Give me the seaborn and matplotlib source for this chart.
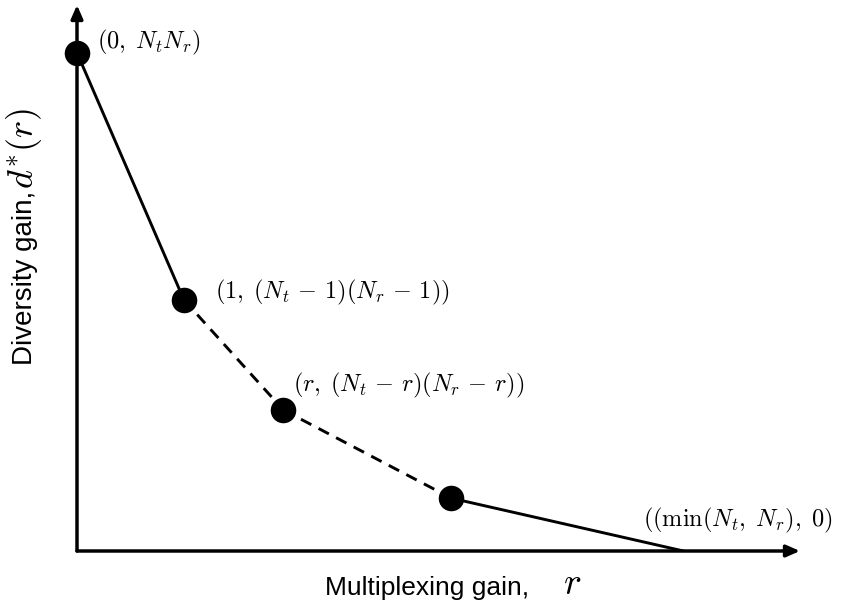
import matplotlib
matplotlib.use("Agg")
import matplotlib.pyplot as plt
import seaborn as sns
import pandas as pd

sns.set_style("white")
plt.rcParams['font.family'] = ['Liberation Sans', 'DejaVu Sans']
plt.rcParams['text.color'] = 'black'
plt.rcParams['axes.labelcolor'] = 'black'
plt.rcParams['mathtext.fontset'] = 'cm'

# Data
r_vals = [0.0, 1.0, 1.93, 3.5, 5.67]
d_vals = [10.0, 5.04, 2.83, 1.06, 0.0]
seg_style = ["solid", "dashed", "dashed", "solid"]
point_labels = [r"$(0,\;N_tN_r)$", r"$(1,\;(N_t\,-\,1)(N_r\,-\,1))$",
                r"$(r,\;(N_t\,-\,r)(N_r\,-\,r))$", None, r"$((\min(N_t,\;N_r),\;0)$"]
x_max, y_max = 6.76, 10.96

DPI = 100
W, H = 8.41, 6.07
fig = plt.figure(figsize=(W, H), dpi=DPI)
ax = fig.add_axes([77/841, (607-551)/607, (800-77)/841, (551-5)/607])

for i in range(len(r_vals) - 1):
    seg = pd.DataFrame({"r": r_vals[i:i+2], "d": d_vals[i:i+2]})
    sns.lineplot(data=seg, x="r", y="d", ax=ax, color="black", lw=2.1)
    if seg_style[i] == "dashed":
        ax.lines[-1].set_dashes([4, 2.8])

pts = pd.DataFrame({"r": r_vals[:4], "d": d_vals[:4]})
sns.scatterplot(data=pts, x="r", y="d", ax=ax, color="black", s=290,
                edgecolor="black", zorder=5, clip_on=False)

# label offsets in pixels (dx right, dy up)
px_off = [(20, 10), (31, 7), (10, 25), None, (-40, 31)]
for i, lab in enumerate(point_labels):
    if lab is None:
        continue
    dx, dy = px_off[i]
    ax.annotate(lab, xy=(r_vals[i], d_vals[i]), xytext=(dx * 72 / DPI, dy * 72 / DPI),
                textcoords="offset points", fontsize=17.5, va="center", ha="left",
                color="black")

ax.set_xlim(0, x_max)
ax.set_ylim(0, y_max)
for s in ax.spines.values():
    s.set_visible(False)
ax.set_xticks([])
ax.set_yticks([])

for tip in [(1, 0), (0, 1)]:
    ax.annotate("", xy=tip, xytext=(0, 0), xycoords="axes fraction",
                arrowprops=dict(arrowstyle="-|>,head_length=0.8,head_width=0.35",
                                color="black", lw=2.5, shrinkA=0, shrinkB=0))

ax.set_xlabel("Multiplexing gain,", fontsize=19, labelpad=18)
ax.xaxis.label.set_x((427 - 77) / 723)
ax.set_ylabel("Diversity gain,", fontsize=20, labelpad=28)

fig.canvas.draw()
rend = fig.canvas.get_renderer()
xb = ax.xaxis.label.get_window_extent(rend)
yb = ax.yaxis.label.get_window_extent(rend)
# math parts appended, larger size
fig.text(563 / (W * DPI), (xb.y0 + 6) / (H * DPI), r"$r$", fontsize=27,
         ha="left", va="baseline")
fig.text((yb.x1 - 5) / (W * DPI), (yb.y1 + 2) / (H * DPI), r"$d^{*}(r)$", fontsize=26,
         ha="left", va="baseline", rotation=90, rotation_mode="anchor")

fig.savefig("out.png", dpi=DPI)
